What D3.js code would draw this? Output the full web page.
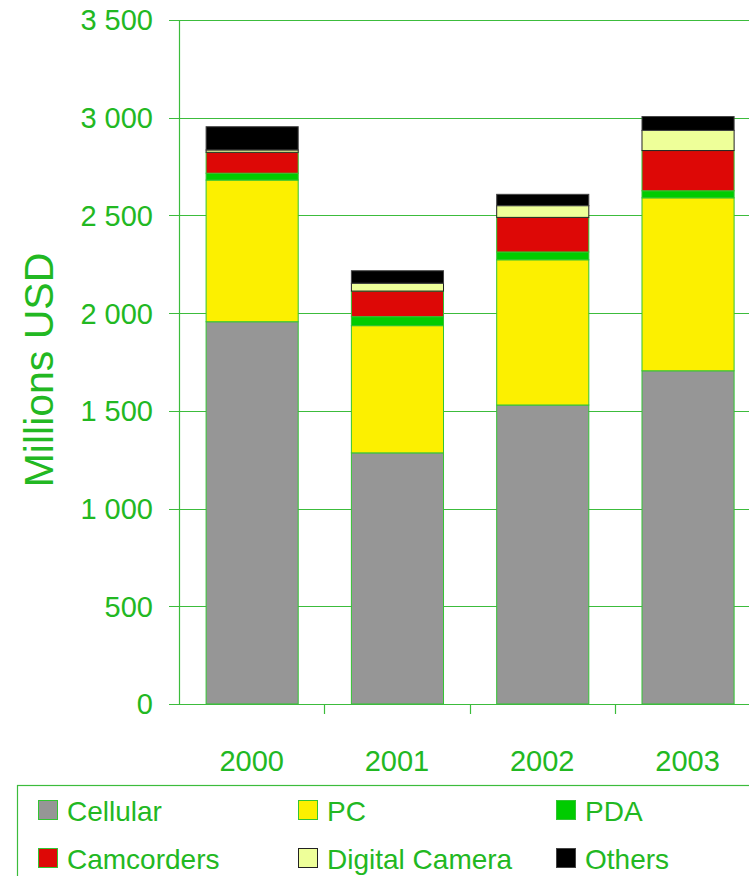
<!DOCTYPE html>
<html>
<head>
<meta charset="utf-8">
<script src="https://cdn.jsdelivr.net/npm/d3@7"></script>
<style>
  body { margin: 0; background: #fff; }
  svg { display: block; font-family: "Liberation Sans", Arial, sans-serif; }
</style>
</head>
<body>
<div id="chart"></div>
<script>
// chart data
var years = ["2000", "2001", "2002", "2003"];
var seriesNames = ["Cellular", "PC", "PDA", "Camcorders", "Digital Camera", "Others"];
var cellular = [1956, 1285, 1530, 1705];
var pc = [725, 651, 743, 885];
var pda = [35, 46, 40, 36];
var camcorders = [107, 131, 177, 206];
var digitalCamera = [12, 40, 60, 103];
var others = [119, 64, 58, 71];
var yTicks = [0, 500, 1000, 1500, 2000, 2500, 3000, 3500];

var colors = ["#969696", "#fcf000", "#00cc00", "#dd0806", "#eeff99", "#000000"];
var strokes = ["#33c433", "#33c433", "#33c433", "#33c433", "#222222", "#444444"];
var textColor = "#22b822";
var lineColor = "#3cbc3c";

var width = 749, height = 876;
var margin = { top: 20, left: 179, bottom: 704 };
var step = 145.3;

var svg = d3.select("#chart").append("svg")
    .attr("width", width)
    .attr("height", height);

// build rows for stacking
var table = years.map(function (yr, i) {
    return {
        year: yr,
        "Cellular": cellular[i],
        "PC": pc[i],
        "PDA": pda[i],
        "Camcorders": camcorders[i],
        "Digital Camera": digitalCamera[i],
        "Others": others[i]
    };
});
var stacked = d3.stack().keys(seriesNames)(table);

var x = d3.scaleBand()
    .domain(years)
    .range([margin.left, margin.left + 4 * step])
    .paddingInner(0.366)
    .paddingOuter(0.183);

var y = d3.scaleLinear()
    .domain([0, 3500])
    .range([margin.bottom, margin.top]);

var fmt = d3.formatLocale({ decimal: ".", thousands: " ", grouping: [3], currency: ["", ""] }).format(",");

// gridlines
svg.append("g").selectAll("line")
    .data(yTicks)
    .enter().append("line")
    .attr("x1", margin.left - 10)
    .attr("x2", width)
    .attr("y1", function (d) { return Math.round(y(d)) + 0.5; })
    .attr("y2", function (d) { return Math.round(y(d)) + 0.5; })
    .attr("stroke", lineColor)
    .attr("stroke-width", 1.2);

// y tick labels
svg.append("g").selectAll("text")
    .data(yTicks)
    .enter().append("text")
    .attr("x", 153)
    .attr("y", function (d) { return y(d); })
    .attr("dy", "0.36em")
    .attr("text-anchor", "end")
    .attr("font-size", "29px")
    .attr("fill", textColor)
    .text(function (d) { return fmt(d); });

// bars
var layers = svg.append("g").selectAll("g")
    .data(stacked)
    .enter().append("g")
    .attr("fill", function (d, i) { return colors[i]; })
    .attr("stroke", function (d, i) { return strokes[i]; });

layers.selectAll("rect")
    .data(function (d) { return d; })
    .enter().append("rect")
    .attr("x", function (d) { return x(d.data.year) + 0.5; })
    .attr("y", function (d) { return y(d[1]); })
    .attr("width", x.bandwidth())
    .attr("height", function (d) { return y(d[0]) - y(d[1]); })
    .attr("stroke-width", 1);

// y axis line
svg.append("line")
    .attr("x1", margin.left + 0.5).attr("x2", margin.left + 0.5)
    .attr("y1", margin.top).attr("y2", margin.bottom)
    .attr("stroke", lineColor)
    .attr("stroke-width", 1.2);

// x axis line and ticks between categories
svg.append("line")
    .attr("x1", margin.left).attr("x2", width)
    .attr("y1", margin.bottom + 0.5).attr("y2", margin.bottom + 0.5)
    .attr("stroke", lineColor)
    .attr("stroke-width", 1.2);

svg.append("g").selectAll("line")
    .data(years)
    .enter().append("line")
    .attr("x1", function (d) { return Math.round(x(d) + x.bandwidth() + (x.step() - x.bandwidth()) / 2) + 0.5; })
    .attr("x2", function (d) { return Math.round(x(d) + x.bandwidth() + (x.step() - x.bandwidth()) / 2) + 0.5; })
    .attr("y1", margin.bottom)
    .attr("y2", margin.bottom + 10)
    .attr("stroke", lineColor)
    .attr("stroke-width", 1.2);

// year labels
svg.append("g").selectAll("text")
    .data(years)
    .enter().append("text")
    .attr("x", function (d) { return x(d) + x.bandwidth() / 2; })
    .attr("y", 761)
    .attr("dy", "0.36em")
    .attr("text-anchor", "middle")
    .attr("font-size", "29px")
    .attr("fill", textColor)
    .text(function (d) { return d; });

// y axis title
svg.append("text")
    .attr("transform", "translate(38,370) rotate(-90)")
    .attr("dy", "0.36em")
    .attr("text-anchor", "middle")
    .attr("font-size", "41px")
    .attr("fill", textColor)
    .text("Millions USD");

// legend
var legend = svg.append("g");
legend.append("rect")
    .attr("x", 17.5)
    .attr("y", 785.5)
    .attr("width", 760)
    .attr("height", 120)
    .attr("fill", "none")
    .attr("stroke", lineColor)
    .attr("stroke-width", 1.2);

var colX = [38, 298, 556];
var rowY = [800, 848];

var legendItems = legend.selectAll(".legend-item")
    .data(seriesNames)
    .enter().append("g")
    .attr("class", "legend-item")
    .attr("transform", function (d, i) {
        return "translate(" + colX[i % 3] + "," + rowY[Math.floor(i / 3)] + ")";
    });

legendItems.append("rect")
    .attr("x", 0.5)
    .attr("y", 0.5)
    .attr("width", 19)
    .attr("height", 19)
    .attr("fill", function (d, i) { return colors[i]; })
    .attr("stroke", function (d, i) { return strokes[i]; });

legendItems.append("text")
    .attr("x", 29)
    .attr("y", 11)
    .attr("dy", "0.36em")
    .attr("font-size", "28px")
    .attr("fill", textColor)
    .text(function (d) { return d; });
</script>
</body>
</html>
